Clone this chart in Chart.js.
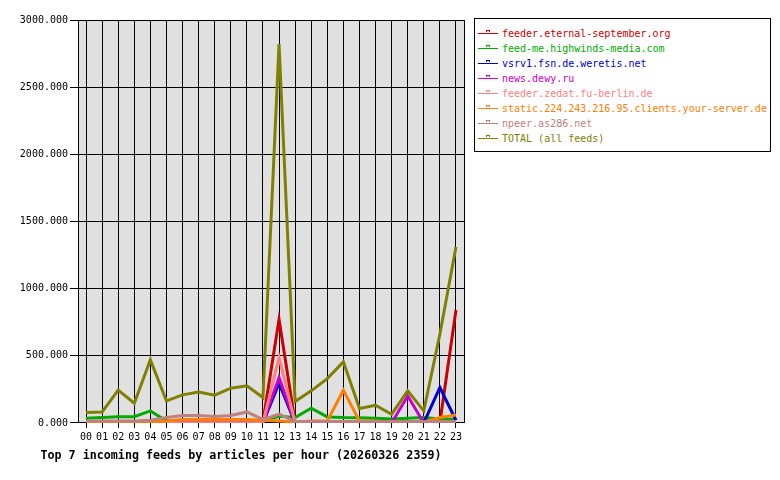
<!DOCTYPE html>
<html lang="en">

<head>
    <meta charset="UTF-8">
    <title>Top 7 incoming feeds by articles per hour</title>
    <script src="https://cdn.jsdelivr.net/npm/chart.js"></script>
    <style>
        body {
            margin: 0;
            padding: 0;
            background-color: #fff;
            font-family: "DejaVu Sans Mono", monospace;
        }

        .wrap {
            position: relative;
            width: 780px;
            height: 480px;
        }

        #feedChart {
            position: absolute;
            left: 0;
            top: 0;
        }

        #legend {
            position: absolute;
            left: 474px;
            top: 18px;
            width: 297px;
            height: 134px;
            border: 1px solid #000;
            padding-top: 7px;
            box-sizing: border-box;
            background: #fff;
        }

        .item {
            height: 15px;
            line-height: 15px;
            font-size: 10px;
            white-space: nowrap;
            position: relative;
            padding-left: 27px;
        }

        .item .mark {
            position: absolute;
            left: 3px;
            top: 7px;
            width: 20px;
            height: 1px;
        }

        .item .mark span {
            position: absolute;
            left: 8px;
            top: -3px;
            width: 2px;
            height: 1px;
            border: 1px solid;
            border-bottom: none;
        }
    </style>
</head>

<body>
    <div class="wrap">
        <canvas id="feedChart" width="482" height="480"></canvas>
        <div id="legend"></div>
    </div>

    <script>
        // hours of the day
        const hours = ['00', '01', '02', '03', '04', '05', '06', '07', '08', '09', '10', '11',
            '12', '13', '14', '15', '16', '17', '18', '19', '20', '21', '22', '23'];

        // articles per hour, per feed
        const eternalSeptember = [3, 3, 3, 3, 3, 3, 3, 3, 3, 3, 3, 10, 770, 3, 3, 3, 3, 3, 3, 3, 3, 3, 3, 840];
        const highwinds = [35, 40, 47, 47, 90, 15, 20, 20, 20, 20, 20, 15, 50, 40, 110, 45, 40, 38, 35, 30, 35, 40, 30, 25];
        const weretis = [0, 0, 0, 0, 0, 0, 0, 0, 0, 0, 0, 0, 296, 0, 0, 0, 0, 0, 0, 0, 0, 0, 264, 20];
        const dewy = [0, 0, 0, 0, 0, 0, 0, 0, 0, 0, 0, 0, 338, 0, 0, 0, 0, 0, 0, 0, 201, 0, 0, 0];
        const zedat = [2, 2, 2, 2, 2, 2, 2, 2, 2, 2, 2, 2, 487, 2, 2, 2, 2, 2, 2, 2, 2, 2, 2, 2];
        const yourServer = [5, 5, 10, 10, 10, 15, 25, 25, 25, 25, 25, 20, 15, 5, 15, 15, 244, 15, 15, 5, 5, 5, 40, 60];
        const as286 = [15, 15, 15, 15, 20, 40, 55, 55, 48, 55, 82, 25, 65, 10, 10, 10, 10, 10, 10, 10, 10, 10, 10, 10];
        const total = [77, 82, 244, 147, 470, 164, 209, 231, 207, 259, 276, 189, 2820, 160, 239, 330, 455, 107, 132, 65, 239, 90, 660, 1310];

        const feedNames = ['feeder.eternal-september.org', 'feed-me.highwinds-media.com', 'vsrv1.fsn.de.weretis.net',
            'news.dewy.ru', 'feeder.zedat.fu-berlin.de', 'static.224.243.216.95.clients.your-server.de',
            'npeer.as286.net', 'TOTAL (all feeds)'];
        const feedColors = ['#cc0000', '#00aa00', '#0000cc', '#cc00cc', '#ff8080', '#ff8000', '#c08080', '#808000'];
        const feedData = [eternalSeptember, highwinds, weretis, dewy, zedat, yourServer, as286, total];

        // plot background and frame
        const plotFrame = {
            id: 'plotFrame',
            beforeDraw(chart) {
                const a = chart.chartArea;
                const ctx = chart.ctx;
                ctx.save();
                ctx.fillStyle = '#e0e0e0';
                ctx.fillRect(a.left, a.top, a.right - a.left, a.bottom - a.top);
                ctx.restore();
            },
            beforeDatasetsDraw(chart) {
                const a = chart.chartArea;
                const ctx = chart.ctx;
                ctx.save();
                ctx.strokeStyle = '#000';
                ctx.lineWidth = 1;
                ctx.beginPath();
                ctx.moveTo(Math.round(a.right) + 0.5, a.top);
                ctx.lineTo(Math.round(a.right) + 0.5, a.bottom);
                ctx.stroke();
                ctx.restore();
            }
        };

        const monoFont = { family: 'DejaVu Sans Mono', size: 10 };

        var feedCtx = document.getElementById('feedChart').getContext('2d');
        var feedChart = new Chart(feedCtx, {
            type: 'line',
            data: {
                labels: hours,
                datasets: feedNames.map((name, i) => ({
                    label: name,
                    data: feedData[i],
                    borderColor: feedColors[i],
                    backgroundColor: feedColors[i],
                    borderWidth: 3,
                    pointRadius: 0,
                    tension: 0,
                    fill: false,
                    order: feedNames.length - 1 - i
                }))
            },
            options: {
                responsive: false,
                animation: false,
                devicePixelRatio: 1,
                layout: {
                    padding: { top: 20, right: 18, left: 18, bottom: 0 }
                },
                plugins: {
                    legend: { display: false },
                    tooltip: { enabled: false },
                    title: {
                        display: true,
                        position: 'bottom',
                        text: 'Top 7 incoming feeds by articles per hour (20260326 2359)',
                        color: '#000',
                        font: { family: 'DejaVu Sans Mono', size: 11.7, weight: 'bold' },
                        padding: { top: 3, bottom: 17 }
                    }
                },
                scales: {
                    x: {
                        offset: true,
                        grid: { color: '#000', offset: false, tickLength: 5, lineWidth: 1 },
                        border: { color: '#000' },
                        ticks: { color: '#000', font: monoFont, autoSkip: false, maxRotation: 0, padding: 3 }
                    },
                    y: {
                        min: 0,
                        max: 3000,
                        grid: { color: '#000', tickLength: 8, lineWidth: 1 },
                        border: { color: '#000' },
                        ticks: {
                            stepSize: 500,
                            color: '#000',
                            font: monoFont,
                            padding: 2,
                            callback: v => v.toFixed(3)
                        },
                        afterFit: s => { s.width = 60; }
                    }
                }
            },
            plugins: [plotFrame]
        });

        // legend box
        const legend = document.getElementById('legend');
        feedNames.forEach((name, i) => {
            const row = document.createElement('div');
            row.className = 'item';
            row.style.color = feedColors[i];
            const mark = document.createElement('div');
            mark.className = 'mark';
            mark.style.background = feedColors[i];
            const box = document.createElement('span');
            box.style.borderColor = feedColors[i];
            mark.appendChild(box);
            row.appendChild(mark);
            row.appendChild(document.createTextNode(name));
            legend.appendChild(row);
        });
    </script>
</body>

</html>
